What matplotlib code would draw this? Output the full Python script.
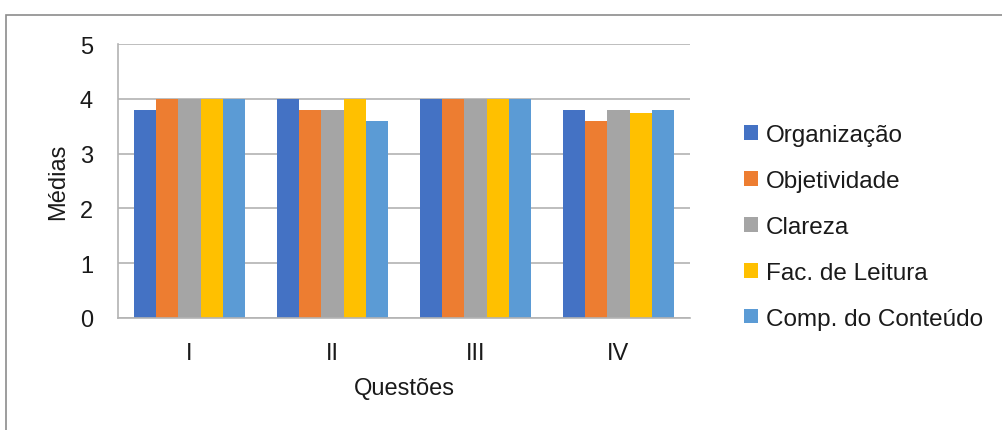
import matplotlib.pyplot as plt
from matplotlib.patches import Rectangle
import numpy as np

plt.rcParams['font.family'] = ['Liberation Sans', 'DejaVu Sans']

questoes = ["I", "II", "III", "IV"]
series = ["Organização", "Objetividade", "Clareza", "Fac. de Leitura", "Comp. do Conteúdo"]
organizacao = [3.8, 4.0, 4.0, 3.8]
objetividade = [4.0, 3.8, 4.0, 3.6]
clareza = [4.0, 3.8, 4.0, 3.8]
fac_leitura = [4.0, 4.0, 4.0, 3.75]
comp_conteudo = [4.0, 3.6, 4.0, 3.8]
colors = ["#4472C4", "#ED7D31", "#A5A5A5", "#FFC000", "#5B9BD5"]

values = [organizacao, objetividade, clareza, fac_leitura, comp_conteudo]
txt = "#1a1a1a"

fig = plt.figure(figsize=(10.03, 4.31), dpi=100)
ax = fig.add_axes([118/1003, 112/431, 572/1003, 274/431])

x = np.arange(len(questoes))
w = 0.154
for i, (name, vals) in enumerate(zip(series, values)):
    ax.bar(x + (i - 2) * w, vals, w, color=colors[i], label=name, zorder=2)

ax.set_xlim(-0.5, 3.5)
ax.set_ylim(0, 5)
ax.set_yticks(range(0, 6))
ax.set_xticks(x)
ax.set_xticklabels(questoes)
ax.grid(axis="y", color="#B3B3B3", linewidth=1.2, zorder=0)
for s in ["top", "right"]:
    ax.spines[s].set_visible(False)
ax.spines["left"].set_color("#B3B3B3")
ax.spines["bottom"].set_color("#B3B3B3")
ax.spines["left"].set_linewidth(1.2)
ax.spines["bottom"].set_linewidth(1.2)
ax.tick_params(length=0, labelsize=17, colors=txt)
ax.tick_params(axis="y", pad=18)
ax.tick_params(axis="x", pad=17)
ax.set_xlabel("Questões", fontsize=17, color=txt, labelpad=10)
ax.set_ylabel("Médias", fontsize=17, color=txt, labelpad=8)

leg = ax.legend(loc="center left", bbox_to_anchor=((732-118)/572, (431-228-112)/274),
                frameon=False, fontsize=17.5, handlelength=0.55, handleheight=0.55,
                handletextpad=0.35, labelspacing=0.98, borderpad=0, labelcolor=txt)

fig.patches.append(Rectangle((6/1003, -0.1), 1.2, (431-16)/431 + 0.1, transform=fig.transFigure,
                             fill=False, edgecolor="#8C8C8C", linewidth=1.2))

fig.savefig("out.png", dpi=100)
